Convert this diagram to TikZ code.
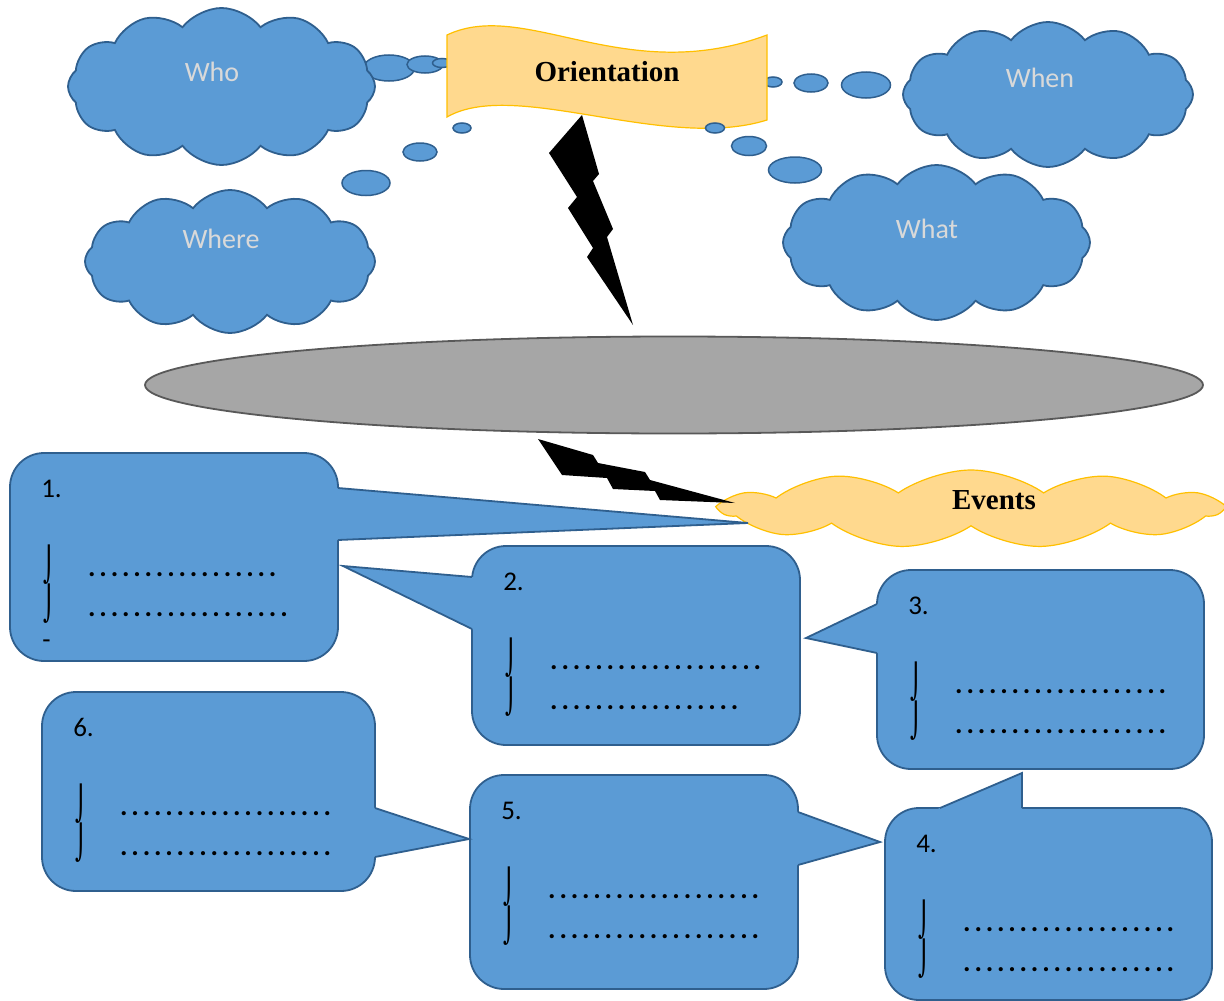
\documentclass[tikz,border=0pt]{standalone}
\usepackage{fontspec}
\setmainfont{Carlito}
\newfontfamily\titlefont{Liberation Serif}
\newfontfamily\glyphfont{DejaVu Sans}
\usetikzlibrary{shapes.symbols,shapes.geometric,calc}

\definecolor{shapeblue}{HTML}{5B9BD5}
\definecolor{shapeline}{HTML}{2F5F8E}
\definecolor{cloudtext}{HTML}{D9D9D9}
\definecolor{bannerfill}{HTML}{FFD98E}
\definecolor{bannerline}{HTML}{FFC000}
\definecolor{stagefill}{HTML}{A6A6A6}
\definecolor{stageline}{HTML}{595959}

\newdimen\dotpitch \dotpitch=11.3pt
\newcommand\dotrow[1]{\hbox to #1\dotpitch{\leaders\hbox to \dotpitch{\hss\textbf{.}\hss}\hfill}}

\tikzset{
    thought/.style={
           cloud, cloud puffs=12, cloud puff arc=105, cloud ignores aspect,
           draw=shapeline, fill=shapeblue,
           line width=1.8pt, inner sep=0pt,
           },
    bubble/.style={draw=shapeline, fill=shapeblue, line width=1.5pt},
    callbox/.style={
           rectangle, rounded corners=34pt,
           draw=shapeline, fill=shapeblue,
           line width=1.8pt, inner sep=0pt,
           },
    callptr/.style={draw=shapeline, line width=1.8pt},
    cloudlabel/.style={text=cloudtext, font=\fontsize{28}{30}\selectfont},
    titlelabel/.style={font=\titlefont\bfseries\fontsize{29}{30}\selectfont},
    numtext/.style={font=\fontsize{27}{30}\selectfont, inner sep=0pt, anchor=base west},
    bultext/.style={font=\glyphfont\fontsize{28}{30}\selectfont, inner sep=0pt},
    dottext/.style={font=\fontsize{28}{30}\selectfont, inner sep=0pt, anchor=base west},
}

% pointer of a callout: base, tip, base
\newcommand\pointer[3]{%
  \fill[shapeblue] ($(#1)!-4pt!(#2)$) -- (#2) -- ($(#3)!-4pt!(#2)$) -- cycle;
  \draw[callptr] (#1) -- (#2) -- (#3);
}
% number and two bullet lines of a callout
\newcommand\callbody[4]{%
  \node[numtext] (#1n) at ($(#1.north west)+(32,45)$) {#2.};
  \node[bultext] (#1b1) at ($(#1.north west)+(40,113)$) {\scalebox{0.8}[1.2]{⌡}};
  \node[bultext] (#1b2) at ($(#1.north west)+(40,152)$) {\scalebox{0.8}[1.2]{⌡}};
  \node[dottext] (#1d1) at ($(#1.north west)+(77,124)$) {\dotrow{#3}};
  \node[dottext] (#1d2) at ($(#1.north west)+(77,164)$) {\dotrow{#4}};
}

\begin{document}
\begin{tikzpicture}[x=1pt, y=-1pt]

  \path[fill=white, use as bounding box] (0,0) rectangle (1224,1001);

  % bubbles under the banner
  \foreach \cx/\cy/\rx/\ry in {389/68/25.5/13, 425/64.5/18/8.5, 442/63/9.5/4.5,
                               866/85/24.5/13, 811/83/17/9, 773/82/9/5}
    \draw[bubble] (\cx,\cy) ellipse [x radius=\rx, y radius=\ry];

  % orientation banner
  \draw[fill=bannerfill, draw=bannerline, line width=1.2pt]
    (447,35) .. controls (525,-2) and (625,88) .. (767,35) -- (767,120)
    .. controls (665,152) and (515,78) .. (447,117) -- cycle;
  \node[titlelabel] (orient) at (607,72) {Orientation};

  \foreach \cx/\cy/\rx/\ry in {462/128/9/5, 420/152/17/9, 366/183/24/12.5,
                               715/128/9.5/5, 749/146/17.5/9.5, 795/170/26.5/13}
    \draw[bubble] (\cx,\cy) ellipse [x radius=\rx, y radius=\ry];

  % clouds
  \node[thought, minimum width=307pt, minimum height=157pt,
        label={[cloudlabel, xshift=-9.5pt, yshift=14.5pt]center:Who}]   (who)   at (221.5,86.5) {};
  \node[thought, minimum width=290pt, minimum height=143pt,
        label={[cloudlabel, xshift=-9pt, yshift=22.5pt]center:Where}]   (where) at (230,261.5) {};
  \node[thought, minimum width=290pt, minimum height=145pt,
        label={[cloudlabel, xshift=-8pt, yshift=16.5pt]center:When}]    (when)  at (1048,94.5) {};
  \node[thought, minimum width=307pt, minimum height=155pt,
        label={[cloudlabel, xshift=-9.5pt, yshift=13.5pt]center:What}]  (what)  at (936.5,242.5) {};

  % bolt down to the stage
  \fill (582,115) -- (599,174) -- (593,181) -- (613,229) -- (607,237) -- (633,325)
     -- (587,257) -- (593,248) -- (568,208) -- (577,197) -- (549,153) -- cycle;

  \node[ellipse, draw=stageline, fill=stagefill, line width=1.8pt, inner sep=0pt,
        minimum width=1058pt, minimum height=97pt] (stage) at (674,385) {};

  \node[cloud, cloud puffs=11, cloud puff arc=70, cloud ignores aspect,
        draw=bannerline, fill=bannerfill,
        line width=1.2pt, minimum width=498pt, minimum height=78pt,
        label={[titlelabel, xshift=23pt, yshift=9pt]center:Events}] (events) at (971,509) {};

  % bolt to the events
  \fill (538,439) -- (593,455) -- (598,463) -- (645,472) -- (650,480) -- (735,503)
     -- (660,500) -- (655,491) -- (613,489) -- (607,478) -- (562,475) -- cycle;

  % callouts
  \node[callbox, minimum width=328pt, minimum height=208pt] (c1) at (174,557)    {};
  \node[callbox, minimum width=328pt, minimum height=199pt] (c2) at (636,645.5)  {};
  \node[callbox, minimum width=327pt, minimum height=199pt] (c3) at (1040.5,669.5) {};
  \node[callbox, minimum width=327pt, minimum height=192pt] (c4) at (1048.5,904) {};
  \node[callbox, minimum width=328pt, minimum height=214pt] (c5) at (634,882)    {};
  \node[callbox, minimum width=333pt, minimum height=199pt] (c6) at (208.5,791.5) {};

  \coordinate (c1a) at (338,488);  \coordinate (c1t) at (748,523);  \coordinate (c1b) at (338,540);
  \coordinate (c2a) at (472,577);  \coordinate (c2t) at (343,566);  \coordinate (c2b) at (472,629);
  \coordinate (c3a) at (877,604);  \coordinate (c3t) at (806,638);  \coordinate (c3b) at (877,653);
  \coordinate (c4a) at (940,808);  \coordinate (c4t) at (1022,773); \coordinate (c4b) at (1022,808);
  \coordinate (c5a) at (798,812);  \coordinate (c5t) at (880,842);  \coordinate (c5b) at (798,865);
  \coordinate (c6a) at (375,808);  \coordinate (c6t) at (469,839);  \coordinate (c6b) at (375,857);

  \pointer{c1a}{c1t}{c1b}
  \pointer{c2a}{c2t}{c2b}
  \pointer{c3a}{c3t}{c3b}
  \pointer{c4a}{c4t}{c4b}
  \pointer{c5a}{c5t}{c5b}
  \pointer{c6a}{c6t}{c6b}

  \callbody{c1}{1}{17}{18}
  \node[numtext] (c1dash) at ($(c1.north west)+(33,196)$) {-};
  \callbody{c2}{2}{19}{17}
  \callbody{c3}{3}{19}{19}
  \callbody{c4}{4}{19}{19}
  \callbody{c5}{5}{19}{19}
  \callbody{c6}{6}{19}{19}

\end{tikzpicture}
\end{document}
